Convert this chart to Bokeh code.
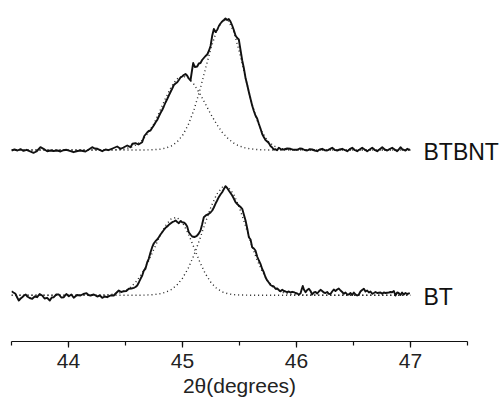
from bokeh.plotting import figure
from bokeh.models import Range1d, SingleIntervalTicker, FixedTicker, LinearAxis
from bokeh.embed import file_html
from bokeh.resources import INLINE

# ---------------- data (intensity in a.u. above each baseline) -------------
# BTBNT measured trace
btbnt_x = [43.500, 43.526, 43.553, 43.579, 43.605, 43.632, 43.658, 43.693, 43.719, 43.754, 43.781,
           43.813, 43.842, 43.868, 43.904, 43.930, 43.956, 43.982, 44.018, 44.044, 44.079, 44.105,
           44.149, 44.175, 44.208, 44.228, 44.254, 44.296, 44.325, 44.351, 44.386, 44.427, 44.456,
           44.482, 44.515, 44.544, 44.561, 44.588, 44.614, 44.646, 44.665, 44.690,
           44.704, 44.719, 44.733, 44.748, 44.763, 44.778, 44.792, 44.807, 44.822, 44.836, 44.851,
           44.866, 44.880, 44.895, 44.910, 44.924, 44.939, 44.954, 44.968, 44.982, 44.997, 45.011,
           45.026, 45.040, 45.055, 45.070, 45.084, 45.094, 45.108, 45.129, 45.143, 45.158, 45.172,
           45.187, 45.202, 45.217, 45.231, 45.246, 45.261, 45.275, 45.290, 45.304, 45.319, 45.333,
           45.348, 45.363, 45.377, 45.392, 45.406, 45.421, 45.436, 45.450, 45.465, 45.480, 45.494,
           45.509, 45.524, 45.538, 45.553, 45.568, 45.582, 45.597, 45.611, 45.626, 45.640, 45.655,
           45.670, 45.684, 45.699, 45.713, 45.728, 45.743, 45.757, 45.772, 45.787, 45.801, 45.816,
           45.830, 45.845, 45.867, 45.889, 45.918, 45.947, 45.976, 46.006, 46.028, 46.050, 46.072,
           46.094, 46.116, 46.138, 46.160, 46.182, 46.204, 46.225, 46.247, 46.269, 46.291, 46.313,
           46.335, 46.357, 46.379, 46.401, 46.423, 46.445, 46.467, 46.489, 46.511, 46.532, 46.554,
           46.576, 46.598, 46.620, 46.642, 46.664, 46.686, 46.708, 46.730, 46.752, 46.774, 46.796,
           46.817, 46.839, 46.861, 46.883, 46.897, 46.912, 46.926, 46.941, 46.956, 46.971, 46.985,
           46.995]
btbnt_y = [-0.5, 0.5, -0.5, 0.8, -0.8, 0.2, -1.2, -2.8, -1.5, 2.8, 1.2,
           -1.2, -0.5, -1.0, -0.5, -1.5, -0.2, 0.2, -1.2, -2.2, -1.0, -0.5,
           -1.5, 0.2, 2.8, 1.5, 1.2, -1.2, 0.5, -0.2, 1.5, 3.5, 1.2,
           2.5, 4.5, 2.8, 6.2, 6.8, 5.5, 7.8, 14.0, 17.5,
           19.0, 19.5, 22.0, 24.5, 27.5, 30.0, 33.5, 37.0, 40.0, 43.5, 47.5,
           51.0, 54.5, 58.0, 61.5, 65.0, 66.5, 67.8, 70.0, 72.5, 73.5, 75.0,
           76.0, 74.5, 71.5, 69.5, 80.0, 87.0, 83.0, 83.5, 86.5, 87.0, 90.0,
           92.0, 94.0, 95.5, 99.0, 104.0, 114.5, 121.0, 118.0, 120.0, 124.0, 126.5,
           128.5, 130.0, 131.5, 130.0, 131.0, 128.5, 124.5, 120.0, 114.5, 112.0, 110.5,
           100.0, 89.5, 82.0, 72.0, 65.0, 58.0, 51.0, 44.5, 39.0, 34.5, 31.5,
           26.0, 21.5, 16.0, 13.0, 10.0, 8.5, 7.0, 4.0, 2.5, 0.5, 0.8,
           -0.3, 2.2, 0.5, 0.5, 1.5, 1.2, 0.2, 0.2, 1.5, 1.2, 0.0,
           -0.5, 0.8, 0.5, -0.5, -1.2, 0.5, 1.2, -0.2, -0.5, 0.8, 2.2,
           0.2, -0.5, 0.5, 1.2, 0.0, -1.2, 0.8, 2.2, 0.0, -1.2, 0.5,
           2.2, 0.5, -1.2, 0.5, 2.2, 0.2, -1.2, 0.8, 2.8, 0.5, -0.5,
           1.0, 2.2, 0.5, -1.2, 0.5, 2.8, 1.0, 0.2, -0.5, 1.2, 0.3,
           0.5]

# BT measured trace
bt_x = [43.500, 43.517, 43.535, 43.550, 43.564, 43.580, 43.594, 43.610, 43.625, 43.638, 43.660,
        43.682, 43.704, 43.725, 43.747, 43.769, 43.790, 43.813, 43.836, 43.853, 43.871, 43.893,
        43.915, 43.937, 43.959, 43.981, 44.003, 44.025, 44.046, 44.075, 44.105, 44.130, 44.158,
        44.175, 44.193, 44.222, 44.252, 44.275, 44.296, 44.318, 44.339, 44.368, 44.397, 44.418,
        44.441, 44.463, 44.485, 44.507, 44.529, 44.551, 44.573, 44.588, 44.603, 44.618, 44.632,
        44.647, 44.661, 44.675, 44.690, 44.704, 44.719, 44.734, 44.748, 44.763, 44.778, 44.792,
        44.807, 44.822, 44.836, 44.851, 44.866, 44.880, 44.895, 44.910, 44.924, 44.939, 44.954,
        44.968, 44.983, 44.997, 45.012, 45.026, 45.041, 45.055, 45.070, 45.085, 45.104, 45.123,
        45.140, 45.158, 45.172, 45.187, 45.209, 45.231, 45.246, 45.261, 45.275, 45.289, 45.304,
        45.318, 45.333, 45.348, 45.363, 45.377, 45.392, 45.406, 45.421, 45.436, 45.450, 45.465,
        45.480, 45.494, 45.509, 45.524, 45.538, 45.553, 45.568, 45.582, 45.597, 45.611, 45.626,
        45.640, 45.655, 45.670, 45.684, 45.699, 45.713, 45.728, 45.743, 45.757, 45.772, 45.787,
        45.801, 45.816, 45.831, 45.845, 45.860, 45.875, 45.889, 45.904, 45.918, 45.933, 45.947,
        45.962, 45.976, 45.991, 46.006, 46.020, 46.035, 46.045, 46.055, 46.065, 46.080, 46.094,
        46.109, 46.123, 46.138, 46.152, 46.167, 46.182, 46.196, 46.211, 46.225, 46.240, 46.254,
        46.269, 46.283, 46.298, 46.313, 46.327, 46.342, 46.357, 46.371, 46.386, 46.401, 46.415,
        46.430, 46.445, 46.459, 46.474, 46.489, 46.503, 46.518, 46.532, 46.547, 46.561, 46.576,
        46.591, 46.605, 46.620, 46.635, 46.649, 46.664, 46.678, 46.693, 46.708, 46.737, 46.752,
        46.766, 46.781, 46.810, 46.825, 46.839, 46.854, 46.868, 46.883, 46.897, 46.912, 46.926,
        46.941, 46.956, 46.971, 46.994]
bt_y = [4.0, 2.7, 1.4, -2.3, -5.3, -3.3, -2.0, -0.3, 0.7, -1.3, -2.8,
        -3.6, -1.3, -2.0, 1.2, -0.3, -3.3, -2.6, -5.3, -2.3, -2.0, 0.7,
        0.7, -2.3, -2.0, 1.2, -1.0, 0.7, -2.6, 0.2, -0.3, 1.2, 2.0,
        0.2, -0.3, 0.7, -1.3, -0.3, -2.6, -1.3, -2.0, -0.3, -0.3, 2.2,
        4.7, 3.2, 4.0, 4.2, 6.4, 6.7, 7.4, 8.2, 9.7, 13.0, 16.4,
        19.7, 24.7, 26.4, 32.7, 36.4, 42.7, 48.0, 51.7, 54.0, 55.7, 58.0,
        60.7, 63.0, 65.2, 67.4, 68.7, 70.4, 71.7, 73.0, 73.7, 74.7, 73.2,
        72.0, 74.2, 73.0, 72.7, 71.4, 68.7, 63.0, 60.7, 58.7, 58.2, 59.0,
        61.2, 64.7, 70.7, 78.0, 80.2, 81.4, 82.7, 84.7, 87.7, 91.4, 94.7,
        98.0, 100.7, 103.0, 106.2, 109.0, 107.2, 104.7, 102.2, 99.7, 96.7, 93.0,
        91.2, 89.7, 88.2, 86.4, 80.7, 74.7, 66.7, 58.0, 55.7, 48.0, 46.7,
        44.7, 38.7, 34.7, 31.4, 26.2, 23.0, 18.0, 14.7, 12.7, 10.2, 9.2,
        8.7, 6.4, 6.7, 5.2, 4.0, 5.4, 4.2, 3.7, 3.0, 3.7, 2.7,
        3.4, 3.0, 2.2, 1.7, 0.7, 1.7, 5.7, 9.2, 5.7, 3.0, 5.2,
        6.4, 4.2, 0.7, 2.7, 3.2, 1.7, 3.7, 5.4, 4.2, 2.7, 2.2,
        3.2, 1.4, 1.2, 3.7, 5.7, 4.2, 5.7, 6.7, 4.7, 3.2, 1.4,
        2.7, 0.7, 0.7, 2.2, 0.2, 2.7, 0.7, -0.3, 0.7, 3.7, 5.2,
        6.4, 3.7, 4.7, 2.7, 3.7, 1.4, 2.2, 3.2, 2.2, 2.7, 1.4,
        2.7, 2.2, 2.7, 3.2, 3.0, 4.2, -0.3, 2.7, 2.2, 0.2, 2.7,
        0.7, 2.2, 1.2, 2.0]

# fitted peak components (dotted), read on one grid
fit_x = [43.50, 44.00, 44.30, 44.40, 44.45, 44.50, 44.55, 44.60, 44.65, 44.70, 44.75, 44.80,
         44.85, 44.90, 44.95, 45.00, 45.05, 45.10, 45.15, 45.20, 45.25, 45.30, 45.35, 45.40,
         45.45, 45.50, 45.55, 45.60, 45.65, 45.70, 45.75, 45.80, 45.85, 45.90, 45.95, 46.00,
         46.30, 46.70, 47.00]
btbnt_fit1 = [0, 0, 0, 0.2, 0.6, 1.3, 2.8, 5.5, 10.1, 17.1, 26.5, 38.6,
              51.4, 62.9, 71.1, 74.0, 71.9, 65.8, 56.8, 46.2, 35.5, 25.7, 17.5, 11.3,
              6.8, 3.9, 2.1, 1.1, 0.5, 0.2, 0, 0, 0, 0, 0, 0,
              0, 0, 0]
btbnt_fit2 = [0, 0, 0, 0, 0, 0, 0, 0, 0, 0.1, 0.3, 0.8,
              1.8, 3.9, 7.8, 14.5, 25.0, 39.9, 58.9, 80.6, 102.0, 119.5, 129.5, 129.7,
              118.2, 97.8, 73.4, 50.0, 30.9, 17.4, 8.8, 4.1, 1.7, 0.7, 0.2, 0.1,
              0, 0, 0]
bt_fit1 = [0, 0, 0.1, 1.1, 2.3, 4.6, 8.4, 14.4, 22.9, 33.7, 46.2, 58.8,
           69.4, 76.3, 77.9, 72.7, 61.8, 47.8, 33.7, 21.6, 12.6, 6.7, 3.2, 1.4,
           0.6, 0.2, 0.1, 0, 0, 0, 0, 0, 0, 0, 0, 0,
           0, 0, 0]
bt_fit2 = [0, 0, 0, 0, 0, 0, 0, 0, 0, 0.3, 0.6, 1.4,
           2.9, 5.6, 10.0, 17.0, 26.9, 39.9, 55.5, 72.3, 88.3, 100.9, 108.0, 108.2,
           100.8, 87.3, 70.2, 52.4, 36.4, 23.5, 14.1, 7.8, 4.0, 1.9, 0.9, 0.3,
           0, 0, 0]

offsets = {"BTBNT": 191.5, "BT": 46.3}      # vertical stacking of the two patterns
label_pos = {"BTBNT": 190, "BT": 45}        # where each sample name sits
x_ticks_interval = 1
x_title = "2θ(degrees)"

# ---------------- figure -------------
p = figure(width=502, height=401, output_backend="svg", toolbar_location=None,
           x_range=Range1d(43.5, 47.5), y_range=Range1d(0, 341),
           y_axis_location=None, min_border_left=11, min_border_right=35,
           min_border_top=0, min_border_bottom=60)
p.outline_line_color = None
p.grid.visible = False
p.background_fill_color = "white"
p.border_fill_color = "white"

def shifted(vals, off):
    return [v + off for v in vals]

dot_kw = dict(line_color="#222222", line_width=1.4, line_dash="1 3")
p.line(fit_x, shifted(btbnt_fit1, offsets["BTBNT"]), **dot_kw)
p.line(fit_x, shifted(btbnt_fit2, offsets["BTBNT"]), **dot_kw)
p.line(fit_x, shifted(bt_fit1, offsets["BT"]), **dot_kw)
p.line(fit_x, shifted(bt_fit2, offsets["BT"]), **dot_kw)

p.line(btbnt_x, shifted(btbnt_y, offsets["BTBNT"]), line_color="#111111", line_width=1.9,
       line_join="round")
p.line(bt_x, shifted(bt_y, offsets["BT"]), line_color="#111111", line_width=1.9,
       line_join="round")

# sample names: tick labels of an invisible right-hand axis, pulled back next to the traces
names_axis = LinearAxis(ticker=FixedTicker(ticks=list(label_pos.values())),
                        major_label_overrides={v: k for k, v in label_pos.items()})
names_axis.axis_line_color = None
names_axis.major_tick_line_color = None
names_axis.minor_tick_line_color = None
names_axis.major_tick_in = 0
names_axis.major_tick_out = 0
names_axis.major_label_standoff = -44
names_axis.major_label_text_font = "Liberation Sans"
names_axis.major_label_text_font_size = "23px"
names_axis.major_label_text_color = "#111111"
p.add_layout(names_axis, "right")

ax = p.xaxis[0]
ax.ticker = SingleIntervalTicker(interval=x_ticks_interval, num_minor_ticks=2)
ax.axis_line_color = "#111111"
ax.axis_line_width = 1.2
ax.major_tick_line_color = "#111111"
ax.major_tick_line_width = 1.2
ax.minor_tick_line_color = "#111111"
ax.minor_tick_line_width = 1.2
ax.major_tick_in = 0
ax.major_tick_out = 6
ax.minor_tick_in = 0
ax.minor_tick_out = 4
ax.major_label_text_font = "Liberation Sans"
ax.major_label_text_font_size = "21px"
ax.major_label_text_color = "#222222"
ax.major_label_standoff = 6
ax.axis_label = x_title
ax.axis_label_text_font = "Liberation Sans"
ax.axis_label_text_font_size = "21px"
ax.axis_label_text_font_style = "normal"
ax.axis_label_text_color = "#222222"
ax.axis_label_standoff = 3

open("out.html", "w").write(file_html(p, INLINE))
